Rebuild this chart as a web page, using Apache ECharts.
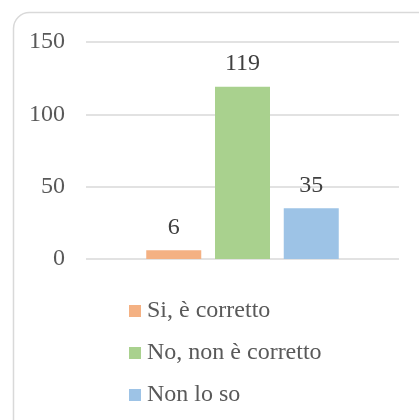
<!DOCTYPE html>
<html>
<head>
<meta charset="utf-8">
<script src="https://cdn.jsdelivr.net/npm/echarts@6/dist/echarts.min.js"></script>
<style>
  html, body { margin: 0; padding: 0; background: #fff; }
  #chart { width: 419px; height: 420px; }
</style>
</head>
<body>
<div id="chart"></div>
<script>
// dati del grafico
const categories = [""];
const seriesNames = ["Si, è corretto", "No, non è corretto", "Non lo so"];
const seriesValues = [[6], [119], [35]];
const seriesColors = ["#f4b183", "#a9d18e", "#9dc3e6"];
const yTicks = { min: 0, max: 150, interval: 50 };

const myChart = echarts.init(document.getElementById("chart"));
const fontFamily = "'Liberation Serif', 'Times New Roman', serif";

let option = {
  animation: false,
  textStyle: { fontFamily: fontFamily },
  graphic: [
    {
      type: "rect",
      shape: { x: 13.5, y: 12.5, width: 430, height: 430, r: 16 },
      style: { fill: "none", stroke: "#d9d9d9", lineWidth: 1.5 },
      silent: true,
    },
  ],
  grid: { left: 86, right: 20, top: 42, bottom: 161 },
  legend: {
    orient: "vertical",
    left: 124,
    top: 294,
    itemWidth: 12,
    itemHeight: 12,
    itemGap: 18,
    icon: "rect",
    textStyle: {
      fontFamily: fontFamily,
      fontSize: 24,
      lineHeight: 24,
      color: "#595959",
      padding: [0, 0, 0, 1],
    },
    data: seriesNames,
  },
  xAxis: {
    type: "category",
    data: categories,
    axisLine: { show: false },
    axisTick: { show: false },
    axisLabel: { show: false },
  },
  yAxis: {
    type: "value",
    min: yTicks.min,
    max: yTicks.max,
    interval: yTicks.interval,
    axisLine: { show: false },
    axisTick: { show: false },
    axisLabel: {
      margin: 21,
      fontFamily: fontFamily,
      fontSize: 24,
      color: "#595959",
    },
    splitLine: { lineStyle: { color: "#d9d9d9", width: 1.5 } },
  },
  series: [],
};

let tempSeries = [];
seriesNames.map((name, index) => {
  tempSeries.push({
    name: name,
    type: "bar",
    barWidth: 55,
    barGap: "25%",
    itemStyle: { color: seriesColors[index] },
    label: {
      show: true,
      position: "top",
      distance: 11,
      fontFamily: fontFamily,
      fontSize: 24,
      color: "#404040",
    },
    data: seriesValues[index],
  });
});
option.series = tempSeries;
myChart.setOption(option);
</script>
</body>
</html>
